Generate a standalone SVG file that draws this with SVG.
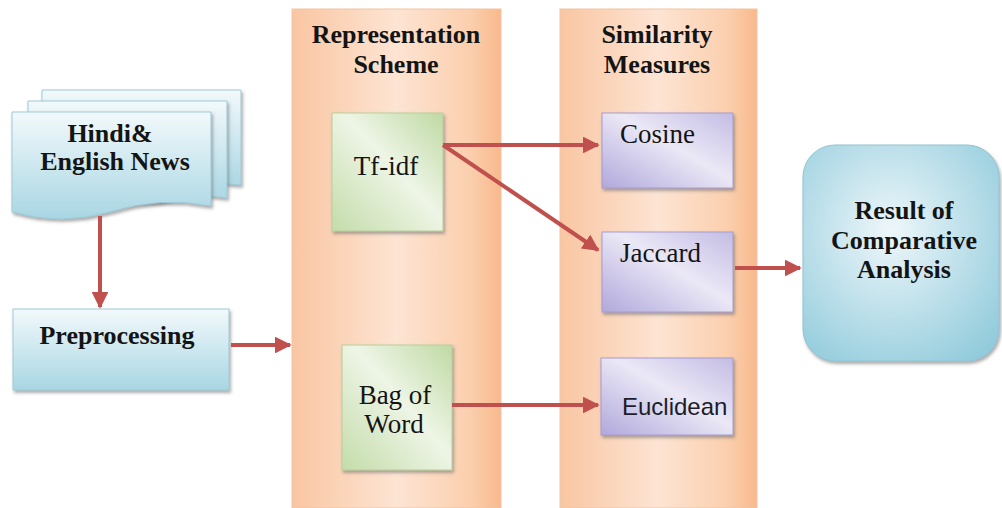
<svg xmlns="http://www.w3.org/2000/svg" width="1002" height="508" viewBox="0 0 1002 508">
  <defs>
    <linearGradient id="gColumn" x1="0" y1="0" x2="1" y2="0">
      <stop offset="0" stop-color="#f9c6a2"/>
      <stop offset="0.5" stop-color="#fde4d3"/>
      <stop offset="0.85" stop-color="#fbcfae"/>
      <stop offset="1" stop-color="#f8b98c"/>
    </linearGradient>
    <linearGradient id="gBlue" x1="0" y1="0" x2="0" y2="1">
      <stop offset="0" stop-color="#f2f9fb"/>
      <stop offset="1" stop-color="#a8d6e3"/>
    </linearGradient>
    <radialGradient id="gResult" cx="0.45" cy="0.4" r="0.75">
      <stop offset="0" stop-color="#eef7fa"/>
      <stop offset="1" stop-color="#8fcadb"/>
    </radialGradient>
    <linearGradient id="gGreen" x1="0" y1="1" x2="1" y2="0">
      <stop offset="0" stop-color="#c4dcaa"/>
      <stop offset="0.55" stop-color="#eef5e6"/>
      <stop offset="1" stop-color="#bfd9a3"/>
    </linearGradient>
    <linearGradient id="gPurple" x1="0" y1="1" x2="1" y2="0">
      <stop offset="0" stop-color="#b1a8dc"/>
      <stop offset="0.55" stop-color="#ebe8f6"/>
      <stop offset="1" stop-color="#c3bce4"/>
    </linearGradient>
    <filter id="shadow" x="-10%" y="-10%" width="125%" height="125%">
      <feDropShadow dx="1.5" dy="2.5" stdDeviation="1.5" flood-color="#6b6b6b" flood-opacity="0.55"/>
    </filter>
    <marker id="arrow" viewBox="0 0 10 10" refX="9" refY="5" markerWidth="4.2" markerHeight="4.2" orient="auto" markerUnits="strokeWidth">
      <path d="M0,0 L10,5 L0,10 Z" fill="#c0504d"/>
    </marker>
  </defs>
  <style>
    .col { fill: url(#gColumn); stroke: #f3c3a2; stroke-width: 1; }
    .blue { fill: url(#gBlue); stroke: #9fc9d6; stroke-width: 1; filter: url(#shadow); }
    .green { fill: url(#gGreen); stroke: #b7cf9c; stroke-width: 1; filter: url(#shadow); }
    .purple { fill: url(#gPurple); stroke: #a69ccf; stroke-width: 1; filter: url(#shadow); }
    text { font-family: "Liberation Serif", "Times New Roman", serif; fill: #141414; }
    .bold { font-weight: bold; font-size: 26px; text-anchor: middle; }
    .reg { font-size: 27px; }
    .sans { font-family: "Liberation Sans", Arial, sans-serif; font-size: 24px; fill: #1c1c2a; }
    .conn { stroke: #c0504d; stroke-width: 4; fill: none; marker-end: url(#arrow); }
  </style>

  <rect width="1002" height="508" fill="#ffffff"/>

  <!-- column backgrounds -->
  <g id="col-representation">
    <rect class="col" x="292" y="9" width="209" height="499"/>
    <text class="bold" x="396" y="43">Representation</text>
    <text class="bold" x="396" y="73">Scheme</text>
  </g>
  <g id="col-similarity">
    <rect class="col" x="560" y="9" width="197" height="499"/>
    <text class="bold" x="657" y="43">Similarity</text>
    <text class="bold" x="657" y="73">Measures</text>
  </g>

  <!-- multi-document input -->
  <g id="news">
    <path class="blue" d="M42,90 H241 V185 Q200,180 170,190 L42,190 Z"/>
    <path class="blue" d="M28,101 H227 V198 Q190,192 160,202 L28,202 Z"/>
    <path class="blue" d="M12,112 H211 V206 Q160,196 110,212 Q60,226 12,212 Z"/>
    <text class="bold" x="110" y="142">Hindi&amp;</text>
    <text class="bold" x="115" y="170">English News</text>
  </g>

  <g id="preprocessing">
    <rect class="blue" x="13" y="309" width="216" height="81"/>
    <text class="bold" x="117" y="344">Preprocessing</text>
  </g>

  <g id="tfidf">
    <rect class="green" x="332" y="113" width="111" height="118"/>
    <text class="reg" x="386" y="175" text-anchor="middle" font-size="28">Tf-idf</text>
  </g>

  <g id="bag">
    <rect class="green" x="342" y="345" width="110" height="125"/>
    <text class="reg" x="395" y="404" text-anchor="middle">Bag of</text>
    <text class="reg" x="394" y="433" text-anchor="middle">Word</text>
  </g>

  <g id="cosine">
    <rect class="purple" x="602" y="113" width="131" height="75"/>
    <text class="reg" x="620" y="143" font-size="26">Cosine</text>
  </g>

  <g id="jaccard">
    <rect class="purple" x="602" y="232" width="131" height="80"/>
    <text class="reg" x="620" y="262" font-size="26">Jaccard</text>
  </g>

  <g id="euclidean">
    <rect class="purple" x="601" y="358" width="132" height="77"/>
    <text class="sans" x="622" y="415">Euclidean</text>
  </g>

  <g id="result">
    <rect x="803" y="145" width="196" height="216" rx="32" ry="32" fill="url(#gResult)" stroke="#94c4d3" stroke-width="1" filter="url(#shadow)"/>
    <text class="bold" x="904" y="219">Result of</text>
    <text class="bold" x="904" y="249">Comparative</text>
    <text class="bold" x="904" y="278">Analysis</text>
  </g>

  <!-- connectors -->
  <g id="connectors">
    <line class="conn" x1="100" y1="216" x2="100" y2="307"/>
    <line class="conn" x1="231" y1="345" x2="290" y2="345"/>
    <line class="conn" x1="443" y1="145" x2="598" y2="145"/>
    <line class="conn" x1="443" y1="145" x2="598" y2="250"/>
    <line class="conn" x1="452" y1="405" x2="598" y2="405"/>
    <line class="conn" x1="735" y1="268" x2="800" y2="268"/>
  </g>
</svg>
